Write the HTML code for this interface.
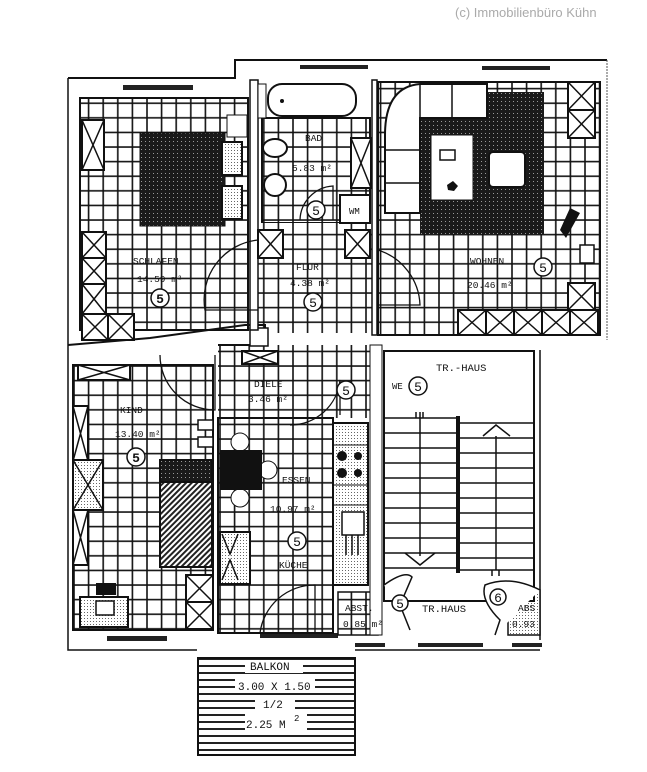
<!DOCTYPE html>
<html><head><meta charset="utf-8"><style>
html,body{margin:0;padding:0;background:#fff;}
svg{display:block;}
text{font-family:"Liberation Mono","DejaVu Sans Mono",monospace;fill:#111;}
</style></head><body>
<svg width="647" height="772" viewBox="0 0 647 772" xmlns="http://www.w3.org/2000/svg">
<defs>
<pattern id="g" x="0" y="0" width="14.6" height="14.6" patternUnits="userSpaceOnUse">
<rect width="14.6" height="14.6" fill="#fff"/>
<path d="M0 1H14.6M1 0V14.6" stroke="#111" stroke-width="1.6"/>
</pattern>
<pattern id="dk" width="4" height="4" patternUnits="userSpaceOnUse">
<rect width="4" height="4" fill="#1a1a1a"/><rect x="1" y="1" width="1" height="1" fill="#999"/>
</pattern>
<pattern id="dot" width="3" height="3" patternUnits="userSpaceOnUse">
<rect width="3" height="3" fill="#fff"/><rect width="1" height="1" fill="#666"/>
</pattern>
<pattern id="hat" width="4" height="4" patternUnits="userSpaceOnUse" patternTransform="rotate(45)">
<rect width="4" height="4" fill="#fff"/><rect width="2" height="4" fill="#222"/>
</pattern>
<pattern id="bal" width="10" height="7" patternUnits="userSpaceOnUse">
<rect width="10" height="7" fill="#fff"/><rect y="0" width="10" height="2" fill="#222"/>
</pattern>
</defs>

<text x="455" y="17" font-size="13" style="fill:#aaa;font-family:'Liberation Sans',sans-serif">(c) Immobilienbüro Kühn</text>

<path d="M68 78H235V60H607" fill="none" stroke="#111" stroke-width="2"/>
<path d="M68 78V650H197" fill="none" stroke="#111" stroke-width="1.5"/>
<path d="M607 60V340" fill="none" stroke="#555" stroke-width="1" stroke-dasharray="2 1"/>
<path d="M540 350V640" fill="none" stroke="#111" stroke-width="1.5"/>
<path d="M355 650H540" fill="none" stroke="#111" stroke-width="1.5"/>
<rect x="123" y="85" width="70" height="5" fill="#222"/>
<rect x="300" y="65" width="68" height="4" fill="#222"/>
<rect x="482" y="66" width="68" height="4" fill="#222"/>
<rect x="107" y="636" width="60" height="5" fill="#222"/>
<rect x="260" y="633" width="78" height="5" fill="#222"/>
<rect x="355" y="643" width="30" height="4" fill="#222"/>
<rect x="418" y="643" width="65" height="4" fill="#222"/>
<rect x="512" y="643" width="30" height="4" fill="#222"/>

<rect x="80" y="98" width="168" height="232" fill="url(#g)" stroke="#111" stroke-width="2"/>
<rect x="262" y="118" width="108" height="105" fill="url(#g)" stroke="#111" stroke-width="2"/>
<rect x="258" y="223" width="117" height="110" fill="url(#g)"/>
<rect x="378" y="82" width="222" height="253" fill="url(#g)" stroke="#111" stroke-width="2"/>
<rect x="73" y="365" width="140" height="265" fill="url(#g)" stroke="#111" stroke-width="2"/>
<rect x="218" y="345" width="152" height="73" fill="url(#g)"/>
<rect x="218" y="418" width="115" height="215" fill="url(#g)" stroke="#111" stroke-width="2"/>
<rect x="338" y="592" width="40" height="43" fill="url(#g)" stroke="#111" stroke-width="1.5"/>
<rect x="508" y="590" width="32" height="45" fill="url(#dot)" stroke="#111" stroke-width="1.5"/>
<path d="M68 345L150 338L245 325L265 325V345H218" fill="none" stroke="#111" stroke-width="2"/>
<rect x="250" y="328" width="18" height="18" fill="#fff" stroke="#111" stroke-width="1.5"/>
<rect x="250" y="80" width="8" height="250" fill="#fff" stroke="#111" stroke-width="1.5"/>
<rect x="372" y="80" width="5" height="255" fill="#fff" stroke="#111" stroke-width="1.5"/>
<rect x="268" y="84" width="88" height="32" rx="14" fill="#fff" stroke="#111" stroke-width="2"/>
<circle cx="282" cy="101" r="2" fill="#111"/>
<rect x="258" y="84" width="8" height="34" fill="#fff" stroke="#111"/>
<ellipse cx="275" cy="148" rx="12" ry="9" fill="#fff" stroke="#111" stroke-width="2"/>
<circle cx="275" cy="185" r="11" fill="#fff" stroke="#111" stroke-width="2"/>
<rect x="340" y="195" width="30" height="28" fill="#fff" stroke="#111" stroke-width="2"/>
<text x="349" y="214" font-size="9">WM</text>
<path d="M300 220A35 35 0 0 1 333 186V220" fill="none" stroke="#111" stroke-width="1.3"/>
<rect x="140" y="133" width="85" height="93" fill="url(#dk)" stroke="#111"/>
<rect x="222" y="142" width="20" height="33" fill="url(#dot)" stroke="#111" stroke-width="2"/>
<rect x="222" y="186" width="20" height="33" fill="url(#dot)" stroke="#111" stroke-width="2"/>
<rect x="227" y="115" width="20" height="22" fill="#fff" stroke="#111"/>
<rect x="420" y="92" width="124" height="142" fill="url(#dk)"/>
<path d="M385 135Q385 87 420 84H487V118H420V213H385Z" fill="#fff" stroke="#111" stroke-width="2"/>
<path d="M420 84V118M452 84V118M385 150H420M385 183H420" stroke="#111" stroke-width="1.5"/>
<rect x="489" y="152" width="36" height="35" rx="4" fill="#fff" stroke="#111" stroke-width="2"/>
<rect x="431" y="135" width="42" height="65" fill="#fff" stroke="#111"/>
<rect x="440" y="150" width="15" height="10" fill="#fff" stroke="#111" stroke-width="1.5"/>
<path d="M447 185l6-4 5 5-4 5-6-1z" fill="#111"/>
<path d="M560 230l10-22 10 5-14 25z" fill="#111"/>
<rect x="580" y="245" width="14" height="18" fill="#fff" stroke="#111" stroke-width="1.5"/>
<path d="M378 250A60 60 0 0 1 420 305H378" fill="none" stroke="#111" stroke-width="1.3"/>
<path d="M258 240A60 60 0 0 0 205 310H258" fill="none" stroke="#111" stroke-width="1.3"/>

<g fill="#fff" stroke="#111" stroke-width="2">
<rect x="82" y="120" width="22" height="50"/>
<rect x="82" y="232" width="24" height="26"/><rect x="82" y="258" width="24" height="26"/><rect x="82" y="284" width="24" height="30"/>
<rect x="82" y="314" width="26" height="26"/><rect x="108" y="314" width="26" height="26"/>
<rect x="351" y="138" width="20" height="50"/>
<rect x="258" y="230" width="25" height="28"/><rect x="345" y="230" width="25" height="28"/>
<rect x="568" y="82" width="27" height="28"/><rect x="568" y="110" width="27" height="28"/>
<rect x="568" y="283" width="27" height="27"/>
<rect x="458" y="310" width="28" height="25"/><rect x="486" y="310" width="28" height="25"/><rect x="514" y="310" width="28" height="25"/><rect x="542" y="310" width="28" height="25"/><rect x="570" y="310" width="28" height="25"/>
<rect x="78" y="365" width="52" height="15"/>
<rect x="242" y="351" width="36" height="13"/>
<rect x="73" y="406" width="15" height="55"/><rect x="73" y="460" width="30" height="50" fill="url(#dot)"/><rect x="73" y="510" width="15" height="55"/>
<rect x="186" y="575" width="27" height="27"/><rect x="186" y="602" width="27" height="27"/>
</g>
<g stroke="#111" stroke-width="1.5">
<path d="M82 120l22 50M104 120l-22 50"/>
<path d="M82 232l24 26M106 232l-24 26M82 258l24 26M106 258l-24 26M82 284l24 30M106 284l-24 30"/>
<path d="M82 314l26 26M108 314l-26 26M108 314l26 26M134 314l-26 26"/>
<path d="M351 138l20 50M371 138l-20 50"/>
<path d="M258 230l25 28M283 230l-25 28M345 230l25 28M370 230l-25 28"/>
<path d="M568 82l27 28M595 82l-27 28M568 110l27 28M595 110l-27 28M568 283l27 27M595 283l-27 27"/>
<path d="M458 310l28 25M486 310l-28 25M486 310l28 25M514 310l-28 25M514 310l28 25M542 310l-28 25M542 310l28 25M570 310l-28 25M570 310l28 25M598 310l-28 25"/>
<path d="M78 365l52 15M130 365l-52 15M242 351l36 13M278 351l-36 13"/>
<path d="M73 406l15 55M88 406l-15 55M73 460l30 50M103 460l-30 50M73 510l15 55M88 510l-15 55"/>
<path d="M186 575l27 27M213 575l-27 27M186 602l27 27M213 602l-27 27"/>
</g>

<rect x="160" y="460" width="52" height="22" fill="url(#dk)" stroke="#111" stroke-width="2"/>
<rect x="160" y="482" width="52" height="85" fill="url(#hat)" stroke="#111" stroke-width="2"/>
<rect x="96" y="583" width="20" height="12" fill="#111"/>
<rect x="80" y="597" width="48" height="30" fill="url(#dot)" stroke="#111" stroke-width="2"/>
<rect x="96" y="601" width="18" height="14" fill="#fff" stroke="#111" stroke-width="1.5"/>
<path d="M160 355A55 55 0 0 0 215 410V355" fill="none" stroke="#111" stroke-width="1.3"/>
<rect x="198" y="420" width="15" height="10" fill="#fff" stroke="#111" stroke-width="1.5"/>
<rect x="198" y="437" width="15" height="10" fill="#fff" stroke="#111" stroke-width="1.5"/>
<circle cx="240" cy="442" r="9" fill="#fff" stroke="#111"/>
<circle cx="240" cy="498" r="9" fill="#fff" stroke="#111"/>
<circle cx="268" cy="470" r="9" fill="#fff" stroke="#111"/>
<rect x="220" y="450" width="42" height="40" fill="#111"/>
<rect x="220" y="532" width="30" height="52" fill="url(#dot)" stroke="#111" stroke-width="2"/>
<path d="M222 534l8 20 8-20M222 580l8-20 8 20" fill="none" stroke="#111" stroke-width="1.5"/>
<rect x="333" y="423" width="35" height="162" fill="url(#dot)" stroke="#111" stroke-width="2"/>
<circle cx="342" cy="456" r="5" fill="#111"/><circle cx="358" cy="456" r="4" fill="#111"/><circle cx="342" cy="473" r="5" fill="#111"/><circle cx="358" cy="473" r="4" fill="#111"/>
<rect x="342" y="512" width="22" height="23" fill="#fff" stroke="#111" stroke-width="1.5"/>
<path d="M346 535v20M352 535v20M358 535v20" stroke="#111" stroke-width="1.5"/>
<path d="M333 445H368M333 485H368M333 505H368" stroke="#111"/>
<path d="M290 425A50 50 0 0 0 340 380V415" fill="none" stroke="#111" stroke-width="1.3"/>
<path d="M260 633A55 55 0 0 1 315 585V633" fill="none" stroke="#111" stroke-width="1.3"/>
<rect x="370" y="345" width="12" height="290" fill="#fff" stroke="#111" stroke-width="1"/>

<rect x="384" y="351" width="150" height="250" fill="#fff" stroke="#111" stroke-width="2"/>
<g stroke="#111" stroke-width="1.5" fill="none">
<path d="M384 418H458M384 433H458M384 448H458M384 463H458M384 478H458M384 493H458M384 508H458M384 523H458M384 538H458M384 553H458M384 568H458"/>
<path d="M458 423H534M458 438H534M458 453H534M458 468H534M458 483H534M458 498H534M458 513H534M458 528H534M458 543H534M458 558H534M458 570H534"/>
<path d="M420 412V556M496 436V570"/>
<path d="M405 553L420 565L435 553M483 436L496 425L510 436"/>
<path d="M416 412v6M423 412v6M492 570v6M499 570v6"/>
</g>
<rect x="456" y="416" width="4" height="157" fill="#111"/>
<path d="M384 585Q405 570 412 577L400 605L410 630M540 590Q510 575 485 585Q480 600 500 620L495 635" fill="#fff" stroke="#111" stroke-width="1.5"/>

<rect x="198" y="658" width="157" height="97" fill="url(#bal)" stroke="#111" stroke-width="2"/>
<rect x="245" y="660" width="58" height="13" fill="#fff"/>
<rect x="235" y="678" width="80" height="14" fill="#fff"/>
<rect x="255" y="697" width="40" height="13" fill="#fff"/>
<rect x="245" y="714" width="62" height="16" fill="#fff"/>
<g font-size="11">
<text x="250" y="670">BALKON</text>
<text x="238" y="690">3.00 X 1.50</text>
<text x="263" y="708">1/2</text>
<text x="246" y="728">2.25 M</text><text x="294" y="721" font-size="9">2</text>
</g>

<g font-size="9.5">
<text x="133" y="264">SCHLAFEN</text>
<text x="137" y="282">14.59 m²</text>
<text x="305" y="141">BAD</text>
<text x="292" y="171">5.83 m²</text>
<text x="296" y="270">FLUR</text>
<text x="290" y="286">4.38 m²</text>
<text x="470" y="264">WOHNEN</text>
<text x="467" y="288">20.46 m²</text>
<text x="254" y="387">DIELE</text>
<text x="248" y="402">3.46 m²</text>
<text x="120" y="413">KIND</text>
<text x="115" y="437">13.40 m²</text>
<text x="282" y="483">ESSEN</text>
<text x="270" y="512">10.97 m²</text>
<text x="279" y="568">KÜCHE</text>
<text x="345" y="611">ABST.</text>
<text x="343" y="627">0.85 m²</text>
<text x="422" y="612" font-size="10.5">TR.HAUS</text>
<text x="436" y="371" font-size="10.5">TR.-HAUS</text>
<text x="392" y="389" font-size="9">WE</text>
<text x="518" y="611">ABS</text>
<text x="512" y="627">0.93</text>
</g>
<g fill="#fff" stroke="#111" stroke-width="1.5">
<circle cx="160" cy="298" r="9"/><circle cx="316" cy="210" r="9"/><circle cx="313" cy="302" r="9"/>
<circle cx="543" cy="267" r="9"/><circle cx="346" cy="390" r="9"/><circle cx="136" cy="457" r="9"/>
<circle cx="297" cy="541" r="9"/><circle cx="418" cy="386" r="9"/><circle cx="400" cy="603" r="8"/><circle cx="498" cy="597" r="8"/>
</g>
<g font-size="13" text-anchor="middle" style="font-family:'Liberation Sans',sans-serif">
<text x="160" y="303" font-weight="bold">5</text><text x="316" y="215">5</text><text x="313" y="307">5</text>
<text x="543" y="272">5</text><text x="346" y="395">5</text><text x="136" y="462" font-weight="bold">5</text>
<text x="297" y="546">5</text><text x="418" y="391">5</text><text x="400" y="608">5</text><text x="498" y="602">6</text>
</g>
</svg>
</body></html>
